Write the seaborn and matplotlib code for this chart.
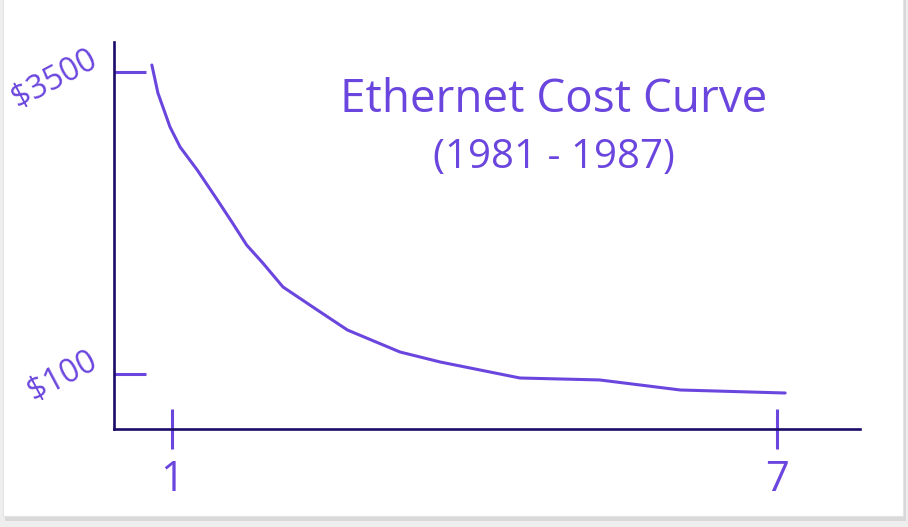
import numpy as np
import pandas as pd
import matplotlib
matplotlib.use("Agg")
import matplotlib.pyplot as plt
import seaborn as sns
from matplotlib.patches import FancyBboxPatch

# Data (year index vs. cost in $)
year_idx = [0.80, 0.86, 0.98, 1.08, 1.25, 1.45, 1.60, 1.74, 1.90, 2.10, 2.44, 2.74, 3.26, 3.66, 4.45, 5.24, 6.04, 7.08]
cost = [3579, 3264, 2881, 2656, 2397, 2059, 1800, 1552, 1350, 1080, 821, 595, 348, 235, 55, 33, -80, -114]
x_ticks = [1, 7]
x_tick_labels = ["1", "7"]
y_ticks = [100, 3500]
y_tick_labels = ["\\$100", "\\$3500"]
title = "Ethernet Cost Curve"
subtitle = "(1981 - 1987)"

PURPLE = "#6b46de"
NAVY = "#1b0c6a"

sns.set_style("white")
plt.rcParams["font.family"] = ["Open Sans", "DejaVu Sans"]

fig = plt.figure(figsize=(9.08, 5.27), dpi=100)
fig.patch.set_facecolor("#eeeeee")
# card with shadow
fig.patches.append(FancyBboxPatch((0.006, 0.012), 0.992, 0.99, boxstyle="square,pad=0",
                                  transform=fig.transFigure, facecolor="#d9d9d9", edgecolor="none", zorder=-10))
fig.patches.append(FancyBboxPatch((0.003, 0.021), 0.992, 0.985, boxstyle="square,pad=0",
                                  transform=fig.transFigure, facecolor="white", edgecolor="#e4e4e4",
                                  linewidth=0.8, zorder=-9))

ax = fig.add_axes([0.1256, 0.186, 0.8216, 0.7343])
ax.set_facecolor("none")
df = pd.DataFrame({"year": year_idx, "cost": cost})
sns.lineplot(data=df, x="year", y="cost", ax=ax, color=PURPLE, linewidth=2.2, sort=False)

ax.set_xlim(0.425, 7.823)
ax.set_ylim(-519, 3838)
ax.set_xlabel("")
ax.set_ylabel("")

for s in ["top", "right"]:
    ax.spines[s].set_visible(False)
for s in ["left", "bottom"]:
    ax.spines[s].set_color(NAVY)
    ax.spines[s].set_linewidth(1.9)

ax.set_xticks(x_ticks)
ax.set_xticklabels(x_tick_labels, fontsize=30, color=PURPLE)
ax.set_yticks(y_ticks)
ax.set_yticklabels(y_tick_labels, fontsize=23, color=PURPLE, rotation=28,
                   rotation_mode="anchor", ha="right", va="bottom")
ax.tick_params(axis="x", bottom=True, direction="inout", length=29, width=2.2, color=PURPLE, pad=7)
ax.tick_params(axis="y", left=True, direction="in", length=23, width=2.2, color=PURPLE, pad=8)

fig.text(0.61, 0.81, title, ha="center", va="center", fontsize=33, color=PURPLE)
fig.text(0.61, 0.70, subtitle, ha="center", va="center", fontsize=29, color=PURPLE)

fig.savefig("out.png", dpi=100, facecolor=fig.get_facecolor())
